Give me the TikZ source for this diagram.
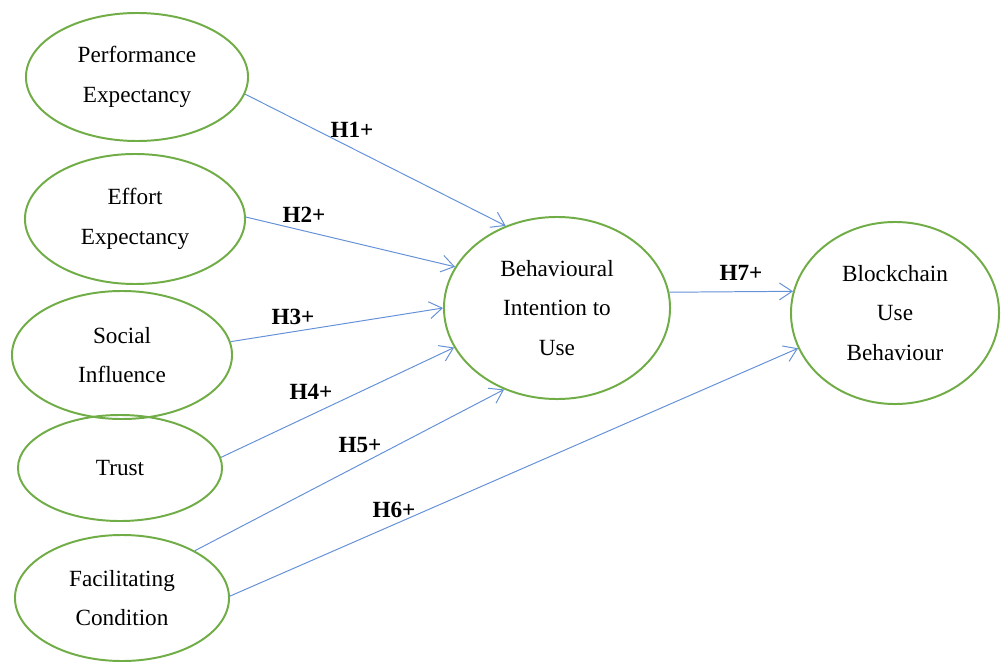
\documentclass[tikz,border=0pt]{standalone}
\usepackage{fontspec}
\setmainfont{Liberation Serif}
\usetikzlibrary{shapes.geometric,arrows.meta}
\definecolor{ringgreen}{RGB}{112,173,71}
\definecolor{pathblue}{RGB}{100,145,215}
\tikzset{
  construct/.style = {ellipse, draw = ringgreen, line width = 1.4pt, inner sep = 0pt, align = center, font = \fontsize{16.5}{28}\selectfont},
  hypo/.style = {draw = pathblue, line width = 0.7pt, -{Straight Barb[length = 9pt, width = 12pt, line width = 0.7pt]}},
  hlabel/.style = {font = \fontsize{16.5}{20}\selectfont\bfseries}
}
\begin{document}
\begin{tikzpicture}[x = 0.025cm, y = -0.025cm]
\useasboundingbox (0,0) rectangle (1003,662);
\node[construct, minimum width = 5.55cm, minimum height = 3.2cm] (pe) at (137,77) {Performance\\Expectancy};
\node[construct, minimum width = 5.5cm, minimum height = 3.25cm] (ee) at (135,219) {Effort\\Expectancy};
\node[construct, minimum width = 5.5cm, minimum height = 3.2cm] (si) at (122,355) {Social\\Influence};
\node[construct, minimum width = 5.1cm, minimum height = 2.65cm] (tr) at (120,468) {Trust};
\node[construct, minimum width = 5.35cm, minimum height = 3.15cm] (fc) at (122,598) {Facilitating\\Condition};
\node[construct, minimum width = 5.65cm, minimum height = 4.55cm] (bi) at (557,308) {Behavioural\\Intention to\\Use};
\node[construct, minimum width = 5.2cm, minimum height = 4.55cm] (bu) at (895,313) {Blockchain\\Use\\Behaviour};
\node[hlabel] (h1) at (352,130) {H1+};
\node[hlabel] (h2) at (304,215) {H2+};
\node[hlabel] (h3) at (293,317) {H3+};
\node[hlabel] (h4) at (311,392) {H4+};
\node[hlabel] (h5) at (360,445) {H5+};
\node[hlabel] (h6) at (394,510) {H6+};
\node[hlabel] (h7) at (741,273) {H7+};
\foreach \src/\sa/\dst/\da in {pe/-9/bi/122, ee/1/bi/158, si/7/bi/180, tr/6/bi/201, fc/33/bi/237, fc/1/bu/200, bi/8/bu/168}
  \draw[hypo] (\src.\sa) -- (\dst.\da);
\end{tikzpicture}
\end{document}
